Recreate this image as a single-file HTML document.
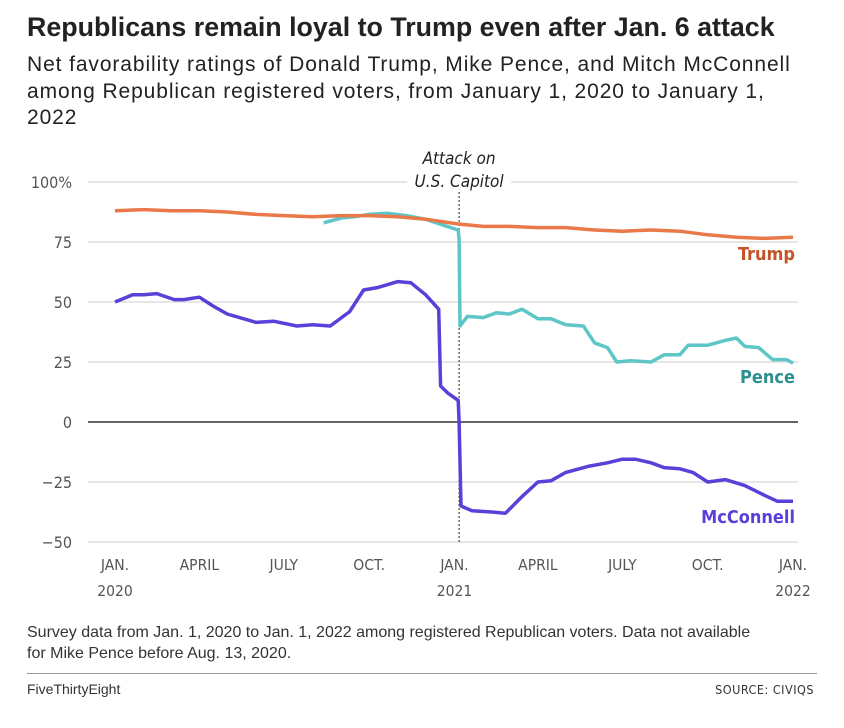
<!DOCTYPE html>
<html><head><meta charset="utf-8">
<style>
body{margin:0;background:#fff;font-family:"Liberation Sans",sans-serif;}
#wrap{position:relative;width:844px;height:728px;overflow:hidden;background:#fff;}
.t{position:absolute;left:27px;top:12px;font-size:26.8px;font-weight:bold;color:#222;white-space:nowrap;}
.s{position:absolute;left:27px;top:52px;font-size:21px;letter-spacing:0.9px;line-height:26.5px;color:#222;width:790px;}
.n{position:absolute;left:27px;top:623px;font-size:16px;line-height:20.5px;color:#333;width:810px;}
.f1{position:absolute;left:27px;top:681px;font-size:14px;color:#333;}
.f2{position:absolute;right:30px;top:682px;font-size:12.5px;color:#333;font-family:"DejaVu Sans Condensed","Liberation Sans",sans-serif;letter-spacing:0.5px;}
.hr{position:absolute;left:27px;width:790px;top:673px;height:1px;background:#999;}
svg{position:absolute;left:0;top:0;}
</style></head><body>
<div id="wrap">
<div class="t">Republicans remain loyal to Trump even after Jan. 6 attack</div>
<div class="s">Net favorability ratings of Donald Trump, Mike Pence, and Mitch McConnell among Republican registered voters, from January 1, 2020 to January 1, 2022</div>
<svg id="chart" width="844" height="728"></svg>
<div class="n">Survey data from Jan. 1, 2020 to Jan. 1, 2022 among registered Republican voters. Data not available<br>for Mike Pence before Aug. 13, 2020.</div>
<div class="hr"></div>
<div class="f1">FiveThirtyEight</div>
<div class="f2">SOURCE: CIVIQS</div>
</div>
<script>
const yTicks=[100,75,50,25,0,-25,-50];
const yTickLabels=["100%","75","50","25","0","\u221225","\u221250"];
const xTickDates=["2020-01-01","2020-04-01","2020-07-01","2020-10-01","2021-01-01","2021-04-01","2021-07-01","2021-10-01","2022-01-01"];
const xTickLine1=["JAN.","APRIL","JULY","OCT.","JAN.","APRIL","JULY","OCT.","JAN."];
const xTickLine2=["2020","","","","2021","","","","2022"];
const trumpDates=["2020-01-01","2020-02-01","2020-03-01","2020-04-01","2020-05-01","2020-06-01","2020-07-01","2020-08-01","2020-09-01","2020-10-01","2020-11-01","2020-12-01","2021-01-05","2021-02-01","2021-03-01","2021-04-01","2021-05-01","2021-06-01","2021-07-01","2021-08-01","2021-09-01","2021-10-01","2021-11-01","2021-12-01","2022-01-01"];
const trumpValues=[88,88.5,88,88,87.5,86.5,86,85.5,86,86,85.5,84.5,82.5,81.5,81.5,81,81,80,79.5,80,79.5,78,77,76.5,77];
const penceDates=["2020-08-13","2020-09-01","2020-09-15","2020-10-01","2020-10-20","2020-11-10","2020-12-01","2020-12-20","2021-01-05","2021-01-06","2021-01-07","2021-01-15","2021-02-01","2021-02-15","2021-03-01","2021-03-15","2021-04-01","2021-04-15","2021-05-01","2021-05-20","2021-06-01","2021-06-15","2021-06-25","2021-07-10","2021-08-01","2021-08-15","2021-09-01","2021-09-10","2021-10-01","2021-10-20","2021-11-01","2021-11-10","2021-11-25","2021-12-10","2021-12-25","2022-01-01"];
const penceValues=[83,85,85.5,86.5,87,86,84.5,82,80,76,40,44,43.5,45.5,45,47,43,43,40.5,40,33,31,25,25.5,25,28,28,32,32,34,35,31.5,31,26,26,24.5];
const mcDates=["2020-01-01","2020-01-20","2020-02-01","2020-02-15","2020-03-05","2020-03-15","2020-04-01","2020-04-15","2020-05-01","2020-06-01","2020-06-20","2020-07-15","2020-08-01","2020-08-20","2020-09-10","2020-09-25","2020-10-10","2020-11-01","2020-11-15","2020-12-01","2020-12-15","2020-12-17","2020-12-25","2021-01-05","2021-01-06","2021-01-08","2021-01-20","2021-02-10","2021-02-25","2021-03-15","2021-04-01","2021-04-15","2021-05-01","2021-05-25","2021-06-15","2021-07-01","2021-07-15","2021-08-01","2021-08-15","2021-09-01","2021-09-15","2021-10-01","2021-10-20","2021-11-10","2021-12-01","2021-12-15","2022-01-01"];
const mcValues=[50,53,53,53.5,51,51,52,48.5,45,41.5,42,40,40.5,40,46,55,56,58.5,58,53,47,15,12,9,0,-35,-37,-37.5,-38,-31,-25,-24.5,-21,-18.5,-17,-15.5,-15.5,-17,-19,-19.5,-21,-25,-24,-26.5,-30.5,-33,-33];
const eventDate="2021-01-06";

const NS="http://www.w3.org/2000/svg";
const svg=document.getElementById('chart');
const d0=Date.parse("2020-01-01"), d1=Date.parse("2022-01-01");
const X0=115,X1=793;
function x(d){return X0+(Date.parse(d)-d0)/(d1-d0)*(X1-X0);}
function y(v){return 422-v*2.4;}
function mk(tag,attrs){const e=document.createElementNS(NS,tag);for(const k in attrs)e.setAttribute(k,attrs[k]);svg.appendChild(e);return e;}
const cond='"DejaVu Sans Condensed","Liberation Sans Narrow","Liberation Sans",sans-serif';
yTicks.forEach((v,i)=>{
  const g=mk('line',{x1:88,x2:798,y1:y(v),y2:y(v),stroke:v===0?'#333':'#ddd','stroke-width':1.5});
  
  
  const t=mk('text',{x:72,y:y(v)+6,'text-anchor':'end','font-size':16,fill:'#555','font-family':cond});
  t.textContent=yTickLabels[i];
  
  
});
xTickDates.forEach((d,i)=>{
  const t=mk('text',{x:x(d),y:570,'text-anchor':'middle','font-size':15.5,fill:'#555','font-family':cond});
  t.textContent=xTickLine1[i];
  
  
  if(xTickLine2[i]){const t2=mk('text',{x:x(d),y:596,'text-anchor':'middle','font-size':15.5,fill:'#555','font-family':cond});
  t2.textContent=xTickLine2[i];
  
  }
});
const ex=x(eventDate);
const bg=mk('rect',{x:ex-52,y:172,width:104,height:20,fill:'#fff'});


const el=mk('line',{x1:ex,x2:ex,y1:192,y2:542,stroke:'#222','stroke-width':1,'stroke-dasharray':'2,2'});


[["Attack on",164],["U.S. Capitol",187]].forEach(a=>{
  const t=mk('text',{x:ex,y:a[1],'text-anchor':'middle','font-size':17,'font-style':'italic',fill:'#222','font-family':cond});
  t.textContent=a[0];
  
  
});
function line(ds,vs,color,name){
  const p=ds.map((d,i)=>(i?'L':'M')+x(d).toFixed(1)+','+y(vs[i]).toFixed(1)).join('');
  const e=mk('path',{d:p,fill:'none',stroke:color,'stroke-width':3.5,'stroke-linejoin':'round'});
  
  
}
line(penceDates,penceValues,'#5ec6c6','pence-line');
line(trumpDates,trumpValues,'#ea7848','trump-line');
line(mcDates,mcValues,'#5b3fd8','mcconnell-line');
[["Trump",260,'#c4532a'],["Pence",383,'#2e8f8f'],["McConnell",523,'#5b3fd8']].forEach(a=>{
  const t=mk('text',{x:795,y:a[1],'text-anchor':'end','font-size':18,'font-weight':'bold',fill:a[2],'font-family':cond});
  t.textContent=a[0];
  
  
});
</script>
</body></html>
